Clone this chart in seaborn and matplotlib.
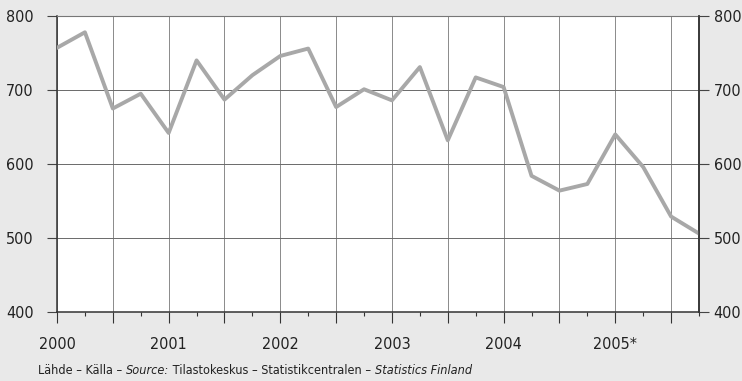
import matplotlib
matplotlib.use("Agg")
import matplotlib.pyplot as plt
import seaborn as sns
import pandas as pd
from matplotlib.transforms import offset_copy

quarters = list(range(24))
values = [757, 778, 675, 695, 642, 740, 687, 720, 746, 756, 677, 701,
          686, 731, 632, 717, 704, 584, 564, 573, 640, 596, 529, 506]
year_labels = ["2000", "2001", "2002", "2003", "2004", "2005*"]
year_positions = [0, 4, 8, 12, 16, 20]
y_ticks = [400, 500, 600, 700, 800]
source_parts = [("Lähde – Källa – ", "normal"), ("Source:", "italic"),
                (" Tilastokeskus – Statistikcentralen – ", "normal"),
                ("Statistics Finland", "italic")]

sns.set_theme(style="white")
plt.rcParams['font.family'] = ['DejaVu Sans']
plt.rcParams['font.stretch'] = 'condensed'

df = pd.DataFrame({"q": quarters, "v": values})

bg = "#e9e9e9"
fig = plt.figure(figsize=(7.42, 3.81), dpi=100, facecolor=bg)
ax = fig.add_axes([57/742, 69/381, (699-57)/742, (312-16)/381])
ax.set_facecolor("white")

for x in range(0, 24, 2):
    ax.axvline(x, color="#8a8a8a", lw=0.7, zorder=1)
for y in [500, 600, 700]:
    ax.axhline(y, color="#6a6a6a", lw=0.7, zorder=1)

sns.lineplot(data=df, x="q", y="v", ax=ax, color="#a8a8a8", lw=2.8, zorder=3)

fs = 11.5
ax.set_xlim(0, 23)
ax.set_ylim(400, 800)
ax.set_xlabel("")
ax.set_ylabel("")
ax.set_yticks(y_ticks)
ax.set_yticklabels([str(t) for t in y_ticks], fontsize=fs, color="#222222", fontstretch="condensed")
ax.set_xticks(list(range(0, 24, 2)))
ax.set_xticklabels([""] * 12)
ax.set_xticks(list(range(24)), minor=True)
ax.tick_params(axis="x", which="major", bottom=True, direction="out", length=8, width=0.8, color="#333333")
ax.tick_params(axis="x", which="minor", bottom=True, direction="out", length=3, width=0.8, color="#333333")
ax.tick_params(axis="y", which="major", left=True, direction="out", length=7, width=0.8, color="#444444", pad=10)

for s in ["left", "bottom", "right"]:
    ax.spines[s].set_color("#333333")
    ax.spines[s].set_linewidth(1.1)
ax.spines["top"].set_color("#777777")
ax.spines["top"].set_linewidth(0.8)

for pos, lab in zip(year_positions, year_labels):
    ax.text(pos, -0.111, lab, transform=ax.get_xaxis_transform(), ha="center", va="center",
            fontsize=fs, color="#222222", fontstretch="condensed")

ax2 = ax.twinx()
ax2.set_ylim(400, 800)
ax2.set_yticks(y_ticks)
ax2.set_yticklabels([str(t) for t in y_ticks], fontsize=fs, color="#222222", fontstretch="condensed")
ax2.tick_params(axis="y", right=True, direction="out", length=7, width=0.8, color="#444444", pad=3.5)
for s in ["left", "bottom", "top"]:
    ax2.spines[s].set_visible(False)
ax2.spines["right"].set_color("#333333")
ax2.spines["right"].set_linewidth(1.1)
ax2.grid(False)

fig.canvas.draw()
renderer = fig.canvas.get_renderer()
x0 = 38 / 742
y0 = 1 - 371 / 381
target_w = 435.0

def draw_source(size):
    xpix = 0.0
    texts = []
    for txt, style in source_parts:
        t = fig.text(x0, y0, txt, ha="left", va="center", fontsize=size, style=style, color="#222222",
                     fontstretch="condensed",
                     transform=offset_copy(fig.transFigure, fig=fig, x=xpix, y=0, units="dots"))
        xpix += t.get_window_extent(renderer).width
        texts.append(t)
    return xpix, texts

w, texts = draw_source(9)
for t in texts:
    t.remove()
size = min(11, 9 * target_w / w)
draw_source(size)

fig.savefig("out.png", dpi=100, facecolor=bg)
